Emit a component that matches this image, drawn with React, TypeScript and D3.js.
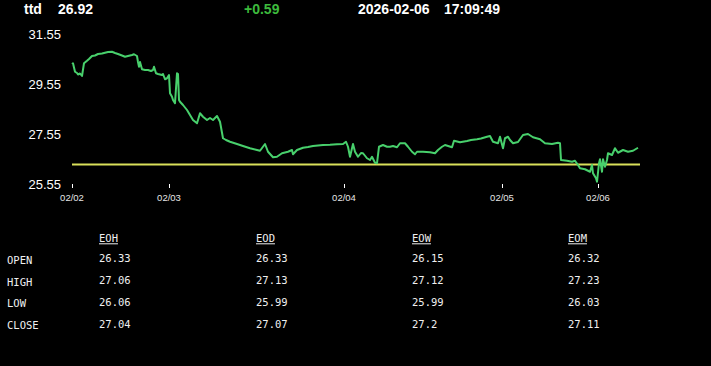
import React from "react";
import * as d3 from "d3";

const symbol = "ttd";
const lastPrice = "26.92";
const change = "+0.59";
const dateText = "2026-02-06";
const timeText = "17:09:49";

const prevClose = 26.33;
const yTicks = [25.55, 27.55, 29.55, 31.55];
const dayLabels = ["02/02", "02/03", "02/04", "02/05", "02/06"];
const dayIndex = [0, 97, 272, 430, 526];
const totalSlots = 568;

const sampleIndex = [
  0, 1, 3, 5, 6, 8, 10, 12, 15, 17, 20, 23, 26, 30, 33, 36, 40, 43, 46, 50, 53, 56, 60, 62, 65, 66, 67, 68, 70, 73, 76, 79, 81, 82, 84, 86, 90, 91, 93, 95,
  97, 98, 100, 101, 103, 105, 106, 107, 108, 111, 115, 118, 121, 125, 128, 131, 135, 138, 141, 145, 148, 151, 154, 158, 165, 171, 178, 185, 188, 193,
  196, 201, 205, 210, 213, 216, 220, 221, 225, 231, 236, 241, 246, 251, 258, 265, 271, 274, 276, 278, 281, 283, 286, 289, 291, 295, 298, 300, 303, 305,
  307, 311, 315, 318, 321, 325, 328, 333, 336, 340, 343, 345, 351, 358, 363, 366, 370, 373, 380, 382, 388, 395, 399, 405, 409, 415, 418, 421, 426, 428,
  431, 433, 436, 438, 441, 446, 451, 456, 461, 468, 473, 480, 486, 488, 489, 495, 500, 503, 506, 508, 513, 518, 520, 521, 524, 525, 527, 528, 530, 531,
  533, 535, 536, 540, 543, 546, 551, 556, 561, 566,
];
const samplePrice = [
  30.35, 30.38, 30.04, 29.99, 29.93, 29.97, 29.87, 30.38, 30.48, 30.55, 30.67, 30.69, 30.75, 30.77, 30.80, 30.83, 30.84, 30.79, 30.75, 30.69, 30.64, 30.67, 30.71, 30.74, 30.67, 30.43, 30.24, 30.43, 30.14, 30.11, 30.11, 30.07, 30.11, 30.24, 29.98, 29.95, 29.91, 29.95, 29.74, 29.78,
  29.91, 29.18, 29.04, 28.91, 28.78, 29.98, 29.95, 28.91, 28.84, 28.71, 28.51, 28.31, 28.11, 27.98, 28.38, 28.24, 28.11, 28.19, 28.11, 28.27, 28.04, 27.38, 27.31, 27.24, 27.15, 27.07, 26.98, 26.91, 26.88, 27.15,
  26.84, 26.62, 26.64, 26.78, 26.81, 26.84, 26.91, 26.74, 26.91, 27.00, 27.03, 27.07, 27.09, 27.11, 27.12, 27.14, 27.15, 27.24, 27.04, 26.64, 27.15, 26.84, 26.64, 26.79, 26.78, 26.58, 26.51, 26.64, 26.40, 26.38,
  27.04, 27.11, 27.04, 27.04, 27.07, 27.02, 27.18, 27.18, 27.04, 26.84, 26.74, 26.84, 26.84, 26.82, 26.78, 26.91, 27.04, 27.11, 27.02, 27.28, 27.22, 27.27, 27.31, 27.34, 27.37, 27.44, 27.47, 27.24, 27.18, 27.44,
  26.98, 27.38, 27.44, 27.31, 27.18, 27.23, 27.51, 27.55, 27.42, 27.34, 27.18, 27.15, 27.20, 27.18, 26.51, 26.48, 26.44, 26.48, 26.31, 26.18, 26.14, 26.04, 26.31, 25.98, 25.78, 25.64, 26.38, 26.54, 26.04, 26.54,
  26.24, 26.51, 26.78, 26.71, 26.98, 26.80, 26.91, 26.84, 26.88, 27.00,
];

const tableCols = ["EOH", "EOD", "EOW", "EOM"];
const tableRows = ["OPEN", "HIGH", "LOW", "CLOSE"];
const openVals = ["26.33", "26.33", "26.15", "26.32"];
const highVals = ["27.06", "27.13", "27.12", "27.23"];
const lowVals = ["26.06", "25.99", "25.99", "26.03"];
const closeVals = ["27.04", "27.07", "27.2", "27.11"];
const tableVals = [openVals, highVals, lowVals, closeVals];

export default function App() {
  const W = 711;
  const H = 366;
  const x = d3.scaleLinear().domain([0, totalSlots]).range([72, 640]);
  const y = d3.scaleLinear().domain([25.55, 31.55]).range([184, 34]);
  const pts: [number, number][] = sampleIndex.map((d, i) => [d, samplePrice[i]]);
  const line = d3
    .line<[number, number]>()
    .x((d) => x(d[0]))
    .y((d) => y(d[1]));

  const headFont = "'Liberation Sans', Arial, sans-serif";
  const mono = "'DejaVu Sans Mono', monospace";
  const colX = [99, 256, 412, 568];
  const rowY = [264, 285.5, 307, 329];
  const valY = [262, 284, 306, 328];

  return (
    <div style={{ position: "fixed", left: 0, top: 0, width: W, height: H, background: "#000" }}>
      <svg width={W} height={H} style={{ display: "block" }}>
        <rect x={0} y={0} width={W} height={H} fill="#000" />
        <g fontFamily={headFont} fontSize={14} fontWeight="bold">
          <text x={24} y={14} fill="#fff">{symbol}</text>
          <text x={58} y={14} fill="#fff">{lastPrice}</text>
          <text x={244} y={14} fill="#3dbb3d">{change}</text>
          <text x={358} y={14} fill="#fff">{dateText}</text>
          <text x={444} y={14} fill="#fff">{timeText}</text>
        </g>
        <g fontFamily={headFont} fontSize={13} fill="#fff">
          {yTicks.map((t) => (
            <text key={t} x={61} y={y(t)} dy="0.36em" textAnchor="end">
              {t.toFixed(2)}
            </text>
          ))}
        </g>
        <line x1={x(0)} x2={x(totalSlots)} y1={y(prevClose)} y2={y(prevClose)} stroke="#d9e05a" strokeWidth={2.2} />
        <path d={line(pts) || ""} fill="none" stroke="#48d06c" strokeWidth={2} strokeLinejoin="round" />
        <g fontFamily={headFont} fontSize={9.5} fill="#e6e6e6">
          {dayIndex.map((d, i) => (
            <g key={dayLabels[i]}>
              <line x1={x(d) + 0.5} x2={x(d) + 0.5} y1={184} y2={188} stroke="#fff" strokeWidth={1} />
              <text x={x(d)} y={201} textAnchor="middle">
                {dayLabels[i]}
              </text>
            </g>
          ))}
        </g>
        <g fontFamily={mono} fontSize={10.5} fill="#f0f0f0">
          {tableCols.map((c, j) => (
            <g key={c}>
              <text x={colX[j]} y={242}>{c}</text>
              <line x1={colX[j]} x2={colX[j] + c.length * 6.32} y1={243.8} y2={243.8} stroke="#f0f0f0" strokeWidth={1} />
            </g>
          ))}
          {tableRows.map((r, i) => (
            <g key={r}>
              <text x={7} y={rowY[i]}>{r}</text>
              {tableVals[i].map((v, j) => (
                <text key={j} x={colX[j]} y={valY[i]}>
                  {v}
                </text>
              ))}
            </g>
          ))}
        </g>
      </svg>
    </div>
  );
}
